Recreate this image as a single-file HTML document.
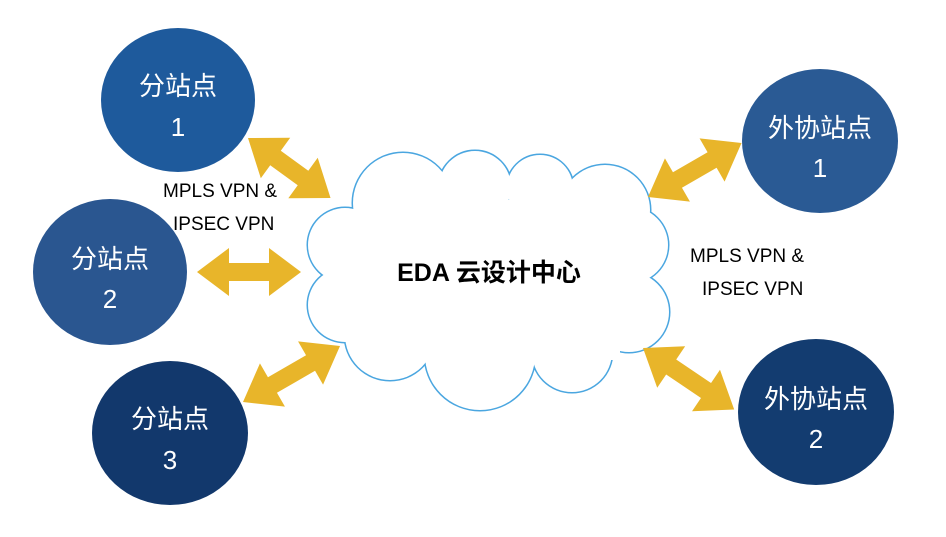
<!DOCTYPE html>
<html><head><meta charset="utf-8"><style>
html,body{margin:0;padding:0;background:#fff;}
svg{display:block;}
text{font-family:"Liberation Sans","Noto Sans CJK SC",sans-serif;}
</style></head><body>
<svg width="946" height="537" viewBox="0 0 946 537" xmlns="http://www.w3.org/2000/svg">
<!-- cloud -->
<g fill="none" stroke="#4aa6e0" stroke-width="3">
<circle cx="403" cy="203" r="50"/><circle cx="475" cy="187" r="36"/><circle cx="540" cy="188" r="33"/><circle cx="605" cy="210" r="45"/><circle cx="630" cy="245" r="38"/><circle cx="629" cy="312" r="40"/><circle cx="572" cy="352" r="40"/><circle cx="480" cy="355" r="55"/><circle cx="390" cy="335" r="45"/><circle cx="345" cy="305" r="37"/><circle cx="345" cy="245" r="37"/>
</g>
<g fill="#fff">
<circle cx="403" cy="203" r="50"/><circle cx="475" cy="187" r="36"/><circle cx="540" cy="188" r="33"/><circle cx="605" cy="210" r="45"/><circle cx="630" cy="245" r="38"/><circle cx="629" cy="312" r="40"/><circle cx="572" cy="352" r="40"/><circle cx="480" cy="355" r="55"/><circle cx="390" cy="335" r="45"/><circle cx="345" cy="305" r="37"/><circle cx="345" cy="245" r="37"/>
<rect x="360" y="200" width="260" height="160"/>
</g>
<text x="489" y="281" font-size="25" font-weight="bold" text-anchor="middle" fill="#000">EDA 云设计中心</text>
<g fill="#e8b52a">
<g transform="translate(248,138) rotate(36)"><polygon points="0,0 34,-25 34,-9 68,-9 68,-25 102,0 68,25 68,9 34,9 34,25"/></g>
<g transform="translate(197,272)"><polygon points="0,0 32,-24 32,-9 72,-9 72,-24 104,0 72,24 72,9 32,9 32,24"/></g>
<g transform="translate(243,402) rotate(-30)"><polygon points="0,0 34,-25 34,-9 78,-9 78,-25 112,0 78,25 78,9 34,9 34,25"/></g>
<g transform="translate(648,197) rotate(-30)"><polygon points="0,0 34,-25 34,-9 74,-9 74,-25 108,0 74,25 74,9 34,9 34,25"/></g>
<g transform="translate(643,348) rotate(34)"><polygon points="0,0 34,-25 34,-9 76,-9 76,-25 110,0 76,25 76,9 34,9 34,25"/></g>
</g>
<!-- nodes -->
<ellipse cx="178" cy="100" rx="77" ry="72" fill="#1e5a9c"/>
<ellipse cx="110" cy="272" rx="77" ry="73" fill="#2a5690"/>
<ellipse cx="170" cy="433" rx="78" ry="72" fill="#12386c"/>
<ellipse cx="820" cy="141" rx="78" ry="72" fill="#2a5a94"/>
<ellipse cx="816" cy="412" rx="78" ry="73" fill="#133c70"/>
<g fill="#fff" font-size="26" text-anchor="middle">
<text x="178" y="95">分站点</text><text x="178" y="136">1</text>
<text x="110" y="268">分站点</text><text x="110" y="308">2</text>
<text x="170" y="428">分站点</text><text x="170" y="469">3</text>
<text x="820" y="137">外协站点</text><text x="820" y="177">1</text>
<text x="816" y="408">外协站点</text><text x="816" y="448">2</text>
</g>
<g fill="#000" font-size="19">
<text x="163" y="197">MPLS VPN &amp;</text><text x="173" y="230">IPSEC VPN</text>
<text x="690" y="262">MPLS VPN &amp;</text><text x="702" y="295">IPSEC VPN</text>
</g>
</svg>
</body></html>
